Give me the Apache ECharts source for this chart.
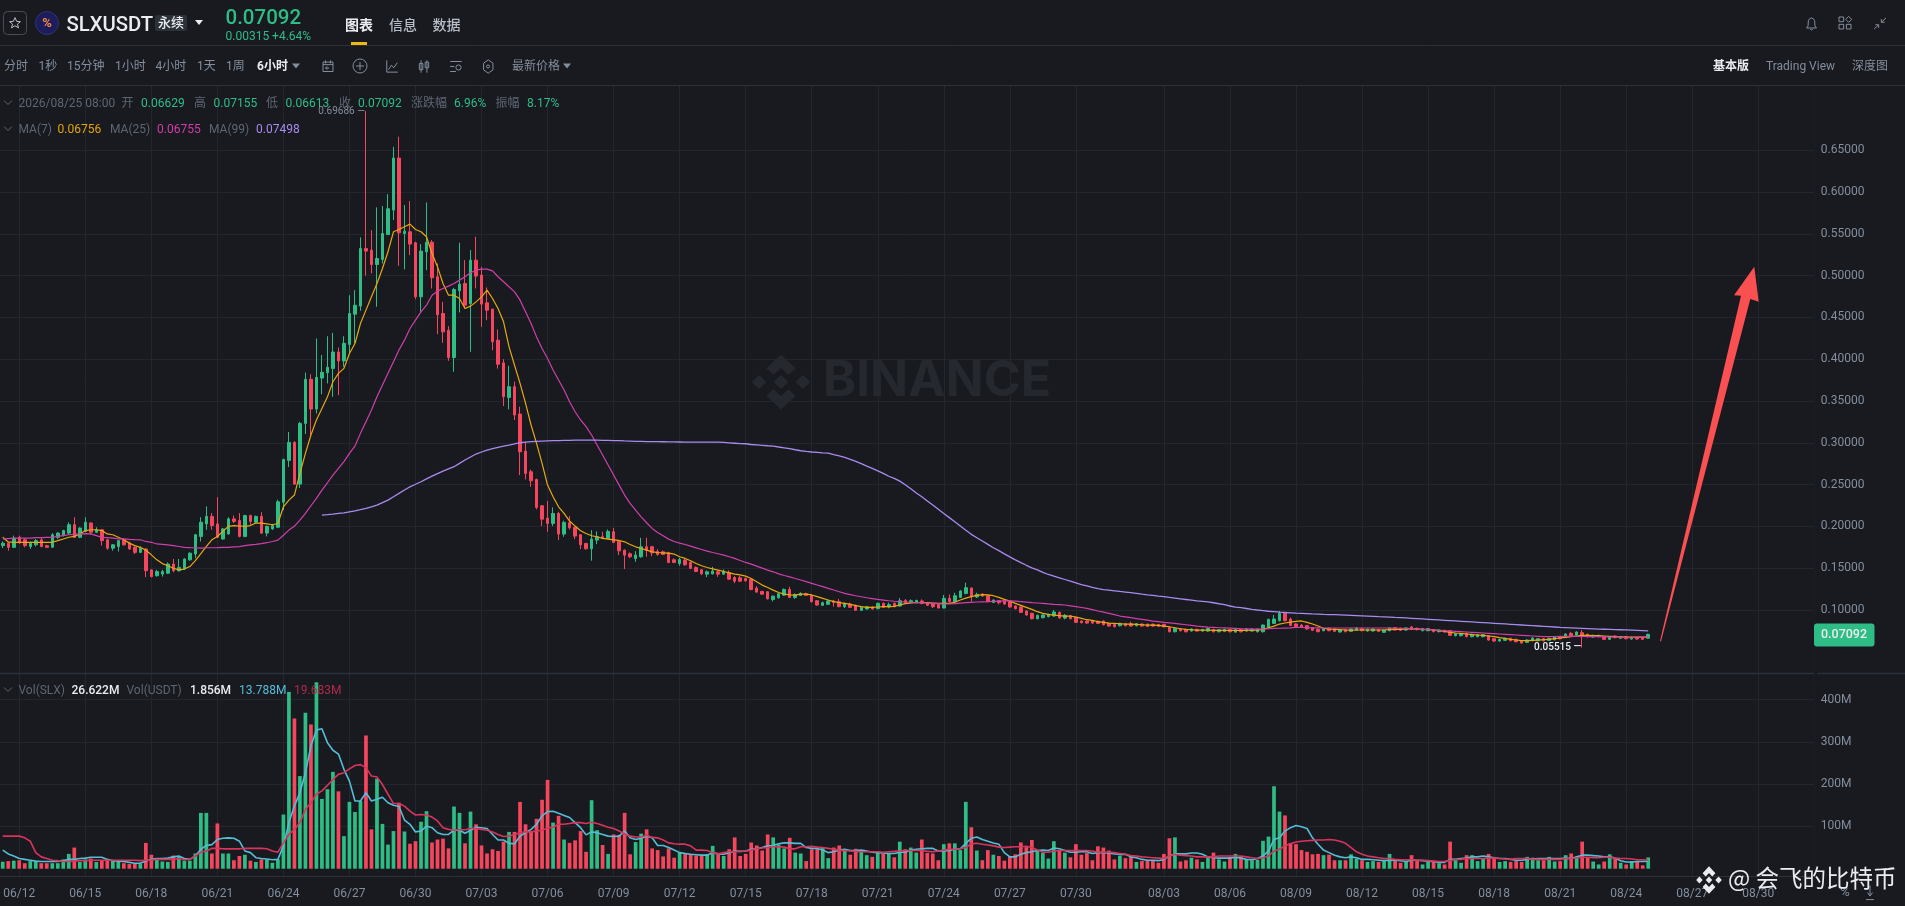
<!DOCTYPE html>
<html><head><meta charset="utf-8"><title>SLXUSDT</title>
<style>html,body{margin:0;padding:0;background:#181a20;overflow:hidden}#c{width:1905px;height:906px}</style>
<script src="https://cdn.jsdelivr.net/npm/echarts@6/dist/echarts.min.js"></script>
</head><body><div id="c"></div>
<script>
const tickLabels=['06/12','06/15','06/18','06/21','06/24','06/27','06/30','07/03','07/06','07/09','07/12','07/15','07/18','07/21','07/24','07/27','07/30','08/03','08/06','08/09','08/12','08/15','08/18','08/21','08/24','08/27','08/30'];
const priceTicks=[0.10,0.15,0.20,0.25,0.30,0.35,0.40,0.45,0.50,0.55,0.60,0.65];
const volTicks=[100,200,300,400];
const opens=[.177,.180,.175,.187,.184,.176,.178,.184,.177,.175,.187,.190,.192,.202,.187,.194,.204,.193,.196,.184,
.174,.176,.184,.180,.175,.169,.173,.148,.141,.143,.144,.155,.147,.149,.160,.167,.188,.203,.212,.203,
.185,.191,.209,.207,.188,.213,.205,.212,.192,.197,.199,.229,.279,.3005,.2506,.3232,.376,.3404,.3775,.3839,
.389,.4086,.398,.4176,.4539,.4635,.5325,.5305,.5133,.5194,.5492,.5784,.6406,.5504,.5524,.5393,.4746,.5285,.54,.4986,
.4547,.4347,.402,.4818,.4906,.4666,.5185,.5006,.4674,.4599,.4228,.3956,.3543,.3671,.3344,.2901,.2654,.2562,.2247,.2099,
.2036,.2155,.1908,.2044,.1988,.19,.1796,.1732,.1836,.1876,.1856,.1936,.1824,.1716,.1673,.1617,.1637,.1756,.1756,.1701,
.1696,.1684,.1601,.1557,.1597,.1569,.1509,.1481,.1429,.1433,.1457,.1429,.1449,.1389,.1385,.1377,.1365,.1262,.1222,.1218,
.1126,.1146,.1178,.1246,.115,.1175,.1195,.1175,.1111,.1056,.1068,.1108,.11,.104,.1072,.1056,.0996,.1012,.1036,.1016,
.108,.1036,.108,.1048,.1115,.1088,.1088,.1108,.1088,.1072,.1068,.1024,.114,.11,.1151,.1199,.1263,.1156,.1191,.1171,
.1091,.1111,.1111,.11,.1048,.1036,.0988,.096,.0896,.0908,.092,.0928,.0972,.0904,.0932,.0912,.0868,.0868,.0872,.0864,
.0868,.084,.0828,.0812,.0836,.0836,.0812,.0832,.083,.083,.0826,.0828,.0792,.074,.0776,.0768,.0749,.0768,.0748,.0748,
.0768,.074,.0744,.0764,.0736,.0764,.0748,.0748,.074,.074,.0792,.084,.0872,.096,.0892,.0833,.082,.0813,.0789,.0769,
.0753,.0781,.0773,.0737,.0765,.0745,.0757,.0777,.0749,.0749,.0765,.0733,.0753,.0789,.0781,.0761,.0797,.0781,.0753,.0753,
.0765,.0741,.0757,.0753,.0693,.0693,.0721,.0681,.0681,.0681,.0693,.0657,.0629,.0637,.0661,.0649,.0633,.0613,.0633,.0633,
.0657,.0637,.0645,.0681,.0681,.0721,.0701,.0729,.0709,.0677,.0681,.0681,.0649,.0689,.0661,.0681,.0653,.0669,.0669,.06629];
const closes=[.180,.175,.186,.181,.177,.180,.183,.176,.175,.190,.192,.195,.202,.187,.198,.205,.193,.196,.183,.174,
.178,.183,.178,.173,.169,.174,.147,.140,.146,.146,.155,.147,.151,.161,.168,.190,.205,.212,.201,.187,
.197,.209,.206,.188,.213,.206,.212,.192,.200,.201,.2295,.280,.3005,.2506,.3232,.376,.3404,.3783,.3843,.3903,
.4086,.398,.419,.4547,.4646,.5325,.5293,.5133,.5205,.5504,.58,.6406,.5512,.5532,.5377,.4746,.5293,.54,.4974,.4531,
.4327,.402,.4834,.4898,.4646,.5185,.4994,.4659,.4587,.4208,.394,.3552,.3671,.3332,.2893,.2634,.2546,.2227,.2087,.2036,
.2155,.1908,.2048,.1984,.1884,.178,.1732,.1848,.1876,.1856,.194,.1808,.1708,.1656,.1637,.1657,.1756,.1716,.1684,.1665,
.1665,.1569,.1569,.1605,.1541,.1497,.1461,.1433,.1457,.1465,.1429,.1465,.1369,.1345,.1345,.1349,.1245,.1214,.119,.1134,
.1166,.1194,.1246,.115,.1186,.1199,.1175,.11,.106,.1088,.1108,.1091,.104,.108,.1032,.0996,.1032,.104,.1012,.108,
.1032,.1064,.104,.1111,.1088,.1111,.1115,.108,.1056,.104,.1024,.114,.11,.1171,.1227,.1267,.116,.1187,.1167,.11,
.1119,.1088,.1072,.1036,.1016,.0972,.094,.0896,.0936,.094,.0948,.0976,.0904,.0936,.0896,.0852,.0848,.0844,.0844,.084,
.0824,.0808,.08,.084,.0812,.0808,.0836,.0808,.0804,.0808,.0804,.08,.074,.078,.0752,.074,.0773,.0748,.0768,.078,
.074,.0764,.0768,.074,.0764,.074,.0772,.0772,.0772,.082,.0888,.0892,.096,.0872,.0816,.0801,.0793,.0773,.0757,.0741,
.0773,.0753,.0745,.0761,.0741,.0773,.0785,.0753,.0769,.0773,.0745,.0761,.0785,.0761,.0757,.0785,.0769,.0765,.0777,.0777,
.0741,.0761,.0737,.0697,.0717,.0717,.0681,.0709,.0705,.0705,.0641,.0629,.0649,.0661,.0633,.0621,.0605,.0641,.0665,.0657,
.0633,.0661,.0677,.0657,.0713,.0689,.0737,.0681,.0681,.0697,.0697,.0649,.0681,.0669,.0681,.0657,.0673,.0653,.0649,.07092];
const lows=[.174,.171,.174,.179,.175,.173,.176,.175,.174,.175,.185,.188,.190,.186,.186,.193,.190,.192,.177,.172,
.171,.170,.177,.172,.167,.168,.1395,.139,.140,.140,.143,.145,.146,.148,.159,.162,.182,.196,.196,.186,
.184,.190,.204,.187,.187,.202,.204,.191,.188,.196,.198,.2195,.271,.250,.246,.3105,.309,.335,.358,.371,
.355,.357,.391,.4068,.4188,.4579,.5,.5026,.4627,.5145,.5485,.5664,.5117,.5074,.5245,.4718,.4567,.5066,.4846,.4299,
.4196,.398,.385,.4559,.4607,.4088,.4846,.4387,.4467,.4108,.3888,.344,.34,.3273,.2614,.2562,.2475,.2203,.2004,.1936,
.2004,.1836,.1876,.1964,.1848,.1728,.1724,.1589,.1788,.1848,.1848,.18,.1656,.1489,.1621,.1577,.1625,.1637,.1645,.1649,
.1657,.1561,.1561,.1529,.1529,.1489,.1453,.1417,.1393,.1425,.1397,.1421,.1361,.1321,.1333,.1341,.1237,.1206,.1182,.1126,
.1102,.1138,.117,.1142,.1134,.1167,.1167,.1088,.1052,.1048,.106,.104,.1032,.1024,.1024,.0988,.0988,.1004,.1004,.1008,
.1024,.102,.1032,.104,.108,.108,.108,.1068,.1048,.1024,.102,.102,.1088,.1088,.1143,.1187,.11,.1143,.1159,.1092,
.1083,.1068,.1064,.1028,.1008,.0964,.0932,.0888,.0888,.09,.0912,.092,.0896,.0888,.0888,.0844,.084,.0836,.0836,.0832,
.0816,.08,.0792,.0804,.0804,.08,.0804,.08,.0796,.08,.0796,.0792,.0732,.0732,.0744,.0732,.0741,.074,.074,.074,
.0732,.0732,.0736,.0732,.0728,.0732,.074,.074,.0732,.0732,.0784,.0832,.0864,.0864,.0808,.0793,.0785,.0765,.0749,.0733,
.0745,.0745,.0737,.0729,.0733,.0737,.0749,.0745,.0741,.0741,.0737,.0725,.0745,.0753,.0749,.0753,.0761,.0757,.0745,.0745,
.0733,.0733,.0729,.0689,.0685,.0685,.0673,.0673,.0673,.0673,.0633,.0621,.0621,.0629,.0625,.0613,.0597,.0605,.0625,.0625,
.0625,.0629,.0637,.0649,.0673,.0681,.0693,.05515,.0673,.0669,.0673,.0641,.0641,.0661,.0653,.0649,.0645,.0645,.0641,.06613];
const highs=[.182,.181,.189,.189,.186,.182,.185,.186,.178,.192,.193,.196,.205,.211,.199,.211,.205,.199,.197,.185,
.179,.184,.186,.182,.176,.176,.174,.149,.148,.148,.157,.161,.161,.162,.169,.191,.211,.224,.216,.235,
.198,.211,.213,.216,.214,.214,.213,.217,.201,.203,.232,.281,.313,.302,.325,.384,.382,.4248,.405,.4275,
.4315,.414,.4275,.4766,.4826,.5457,.69686,.5544,.5816,.5832,.5975,.654,.6662,.5844,.5891,.5405,.5377,.5875,.5425,.5145,
.4686,.4395,.4854,.5393,.5185,.5305,.5465,.5105,.4858,.4605,.4355,.4,.392,.3731,.3432,.3013,.268,.2571,.2255,.2303,
.2227,.2175,.2068,.2123,.1996,.1908,.1804,.1956,.194,.1936,.1964,.198,.1836,.1724,.1689,.1704,.1864,.1864,.1768,.1728,
.1712,.1696,.1617,.1625,.1613,.1581,.1521,.1489,.1473,.1517,.1477,.1485,.1473,.1405,.1409,.1389,.1377,.1285,.123,.1226,
.1174,.1202,.1258,.1277,.1198,.1211,.1207,.1183,.1119,.11,.112,.112,.1131,.1088,.1088,.1064,.104,.1048,.1044,.1088,
.1088,.1088,.1088,.1143,.1131,.1127,.1123,.1127,.1096,.108,.108,.118,.1187,.1207,.1239,.1327,.1271,.1207,.1199,.1179,
.1127,.1119,.1119,.1108,.1056,.1044,.0996,.0968,.0944,.0948,.0956,.1,.098,.0952,.094,.092,.0876,.0876,.088,.0876,
.0876,.0848,.0836,.0848,.0844,.086,.0844,.084,.0838,.0838,.0834,.0836,.08,.0788,.0784,.0776,.078,.0776,.0776,.0792,
.0776,.0772,.0776,.0772,.0772,.0772,.078,.078,.078,.0828,.0896,.094,.0988,.0972,.091,.0841,.0828,.0821,.0797,.0777,
.0781,.0789,.0781,.0769,.0773,.0781,.0793,.0785,.0777,.0781,.0773,.0769,.0793,.0797,.0789,.0793,.0809,.0789,.0785,.0785,
.0773,.0769,.0765,.0761,.0725,.0725,.0729,.0717,.0713,.0713,.0701,.0665,.0657,.0669,.0669,.0657,.0641,.0649,.0673,.0665,
.0665,.0669,.0685,.0689,.0721,.0737,.0745,.0761,.0717,.0705,.0705,.0689,.0689,.0697,.0689,.0689,.0681,.0677,.0677,.07155];
const ma7=[.187,.1814,.181,.181,.181,.181,.181,.181,.181,.181,.183,.185,.187,.188,.191,.195,.196,.196,.195,.191,
.19,.187,.184,.180,.177,.175,.1714,.166,.160,.1555,.153,.150,.148,.149,.152,.159,.1674,.176,.184,.188,
.194,.200,.201,.2005,.200,.201,.204,.204,.203,.202,.2035,.2235,.2315,.2375,.2634,.2873,.3093,.3272,.341,.355,
.373,.383,.389,.4068,.4188,.4427,.4587,.4746,.4906,.5085,.5285,.5524,.5552,.5584,.5616,.5552,.5524,.5465,.5265,.5105,
.4906,.4766,.4766,.4726,.4607,.4635,.4686,.4746,.4826,.4726,.4607,.4447,.4148,.3928,.3711,.3472,.3213,.2993,.2754,.2494,
.2355,.2235,.2155,.2064,.2004,.1948,.1916,.1888,.1876,.1856,.1848,.184,.1832,.1816,.1784,.1756,.1736,.1716,.1696,.1688,
.1684,.168,.1669,.1637,.1617,.1589,.1557,.1529,.1509,.1493,.1477,.1461,.1445,.1429,.1421,.1405,.1377,.1337,.1298,.1269,
.1238,.121,.119,.1182,.1178,.119,.1191,.118,.116,.114,.112,.110,.1088,.108,.1068,.1052,.104,.1032,.1032,.1036,
.104,.104,.1044,.106,.1076,.1084,.1088,.1088,.1088,.1084,.108,.108,.108,.1092,.112,.1143,.116,.1175,.1183,.118,
.1171,.1151,.1127,.1108,.108,.1056,.1032,.1008,.098,.096,.0948,.094,.0932,.0928,.0928,.0916,.09,.0884,.0876,.086,
.0852,.0844,.084,.0836,.0832,.0832,.0828,.0824,.082,.082,.0816,.0808,.08,.0788,.0776,.0768,.0764,.076,.076,.076,
.0756,.0756,.0756,.0756,.0756,.0756,.0756,.076,.076,.0768,.0788,.0808,.0832,.0845,.0855,.0865,.0869,.0853,.0833,.0809,
.0781,.0773,.0769,.0765,.0761,.0757,.0761,.0761,.0761,.0761,.0761,.0761,.0765,.0769,.0769,.0773,.0777,.0773,.0769,.0765,
.0761,.0753,.0745,.0733,.0725,.0721,.0713,.0705,.0701,.0697,.0689,.0681,.0669,.0661,.0649,.0641,.0633,.0633,.0637,.0641,
.0645,.0649,.0657,.0665,.0673,.0681,.0689,.0697,.0697,.0693,.0693,.0689,.0685,.0681,.068,.0675,.0675,.0675,.0675,.06756];
const ma25=[.185,.1855,.186,.186,.186,.186,.1865,.1865,.187,.187,.188,.189,.190,.1905,.191,.1914,.191,.189,.187,.1865,
.186,.185,.185,.1845,.1842,.184,.182,.181,.179,.1785,.178,.177,.176,.175,.1746,.1745,.174,.1745,.1745,.1746,
.175,.175,.1755,.1758,.177,.178,.1786,.1795,.1805,.182,.1836,.1895,.1956,.2003,.2075,.2155,.2247,.2335,.2435,.2522,
.2614,.2694,.2774,.2873,.2961,.3113,.3252,.3392,.3552,.3691,.3831,.3971,.411,.4228,.4367,.4467,.4567,.4646,.4766,.4814,
.4846,.4874,.4906,.4946,.4986,.5034,.5065,.5077,.5077,.5057,.4986,.4926,.4866,.4806,.4706,.4567,.4427,.4267,.4128,.4008,
.3871,.3751,.3632,.3492,.3372,.3273,.3193,.3093,.2973,.2854,.2734,.2614,.2494,.2375,.2275,.2195,.2115,.2044,.1976,.1928,
.1888,.1848,.182,.18,.1784,.1764,.1744,.1724,.1704,.1688,.1673,.1657,.1637,.1617,.1593,.1569,.1549,.1525,.1501,.1477,
.1457,.1433,.1413,.1397,.1377,.1359,.1339,.1319,.1299,.1279,.1259,.1239,.1219,.1199,.1185,.1171,.1159,.1147,.1137,.1127,
.1119,.1111,.1105,.11,.1096,.1092,.109,.1088,.1084,.108,.1076,.1072,.1074,.1076,.1082,.1088,.1092,.1096,.1098,.11,
.1104,.1107,.1109,.1111,.1106,.11,.1094,.1088,.1084,.108,.1074,.1068,.1064,.106,.105,.104,.103,.102,.1004,.0988,
.0974,.096,.0944,.0928,.0918,.0908,.0898,.0888,.0878,.0868,.086,.0852,.0846,.084,.0832,.0824,.0816,.0808,.0802,.0796,
.0792,.0788,.0786,.0784,.078,.0776,.0774,.0772,.0772,.0772,.0776,.078,.0782,.0784,.0786,.0793,.0791,.0789,.0787,.0786,
.0785,.0785,.0785,.0785,.0785,.0785,.0785,.0785,.0785,.0785,.0785,.0785,.0784,.0783,.0782,.0781,.0777,.0773,.0769,.0765,
.0761,.0757,.0753,.0749,.0745,.0741,.0737,.0733,.0729,.0725,.0721,.0717,.0713,.0709,.0705,.0701,.0697,.0693,.0689,.0685,
.0681,.0682,.0683,.0684,.0685,.0685,.0684,.0683,.0682,.0681,.0681,.0679,.0677,.0675,.0673,.0669,.0668,.0677,.0676,.06755];
const ma99=[null,null,null,null,null,null,null,null,null,null,null,null,null,null,null,null,null,null,null,null,
null,null,null,null,null,null,null,null,null,null,null,null,null,null,null,null,null,null,null,null,
null,null,null,null,null,null,null,null,null,null,null,null,null,null,null,null,null,null,.2135,.214,
.2147,.2155,.2163,.2175,.2187,.22,.2215,.2235,.2255,.2285,.2315,.2355,.2395,.2435,.2474,.2504,.2534,.2568,.2602,.2632,
.2662,.2688,.2714,.2754,.2794,.283,.2866,.289,.2913,.293,.2945,.296,.2973,.2988,.3001,.3007,.3013,.3017,.3021,.3023,
.3025,.3027,.3029,.303,.3032,.3033,.3033,.3032,.3031,.303,.3029,.3027,.3025,.3022,.302,.3017,.3016,.3015,.3014,.3014,
.3013,.3012,.3011,.301,.3009,.3009,.3009,.3009,.3009,.3009,.3009,.3005,.3,.2995,.299,.2989,.298,.2975,.297,.2965,
.2961,.295,.294,.293,.2917,.2905,.2897,.289,.2885,.288,.2877,.286,.2845,.2825,.2803,.2778,.275,.2722,.2695,.2665,
.2635,.26,.2575,.2542,.2498,.245,.24,.2355,.2305,.2255,.2205,.2155,.2105,.2055,.2005,.1955,.1905,.1865,.1825,.1785,
.1745,.171,.1672,.1635,.16,.1567,.1535,.1505,.148,.145,.1425,.1405,.1385,.1365,.1345,.1325,.1305,.129,.127,.1255,
.1245,.1238,.123,.1222,.1215,.1208,.12,.119,.1182,.1175,.1167,.116,.115,.1142,.1134,.1126,.1118,.111,.1104,.1097,
.1087,.1075,.1065,.1048,.1035,.1028,.1018,.1008,.1,.0993,.0985,.098,.0974,.097,.0966,.0962,.0959,.0956,.0953,.0951,
.0948,.0946,.0944,.0942,.094,.0937,.0934,.0931,.0928,.0925,.0921,.0918,.0915,.0911,.0908,.0905,.0901,.0897,.0893,.0889,
.0885,.0881,.0877,.0873,.0869,.0865,.0861,.0857,.0853,.0849,.0845,.0841,.0837,.0833,.0829,.0825,.0821,.0817,.0813,.0809,
.0805,.0801,.0797,.0793,.079,.0787,.0784,.0781,.0778,.0775,.0772,.077,.0768,.0766,.0764,.0762,.076,.0757,.0754,.07498];
const volumes=[16.5,18,19,20,13,18,16,13,13,13,13,22,35,50,16,22,24,16,19,21,
19,16,13,11,12,11,61,33,22,17,16,31,28,19,19,36,132,132,36,107,
36,36,20,30,33,19,16,22,22,14,22,128,418,355,219,369,341,441,165,188,
229,183,77,158,134,160,315,93,213,106,57,89,156,88,59,65,111,136,62,69,
71,48,147,132,60,135,105,55,36,46,42,64,87,87,158,105,89,118,163,210,
109,125,69,61,67,89,40,162,91,56,35,81,80,132,34,63,83,93,48,44,
29,48,26,38,35,35,31,31,34,54,34,30,46,74,30,35,62,55,43,81,
74,57,48,73,38,36,18,46,47,50,25,50,55,44,33,47,42,32,28,38,
35,35,27,64,46,50,38,69,37,36,20,58,60,60,44,158,98,43,20,44,
33,30,19,30,34,62,51,68,43,37,24,65,43,38,27,58,33,37,20,53,
50,43,22,31,25,28,16,18,19,20,14,35,72,74,17,20,26,22,16,30,
38,22,17,28,35,30,21,20,21,66,76,195,135,126,61,58,44,40,34,35,
32,33,20,20,20,34,24,20,16,18,16,18,35,20,14,18,32,20,10,16,
17,13,10,64,20,14,32,32,18,24,35,26,16,18,16,18,16,28,26,20,
20,28,17,18,32,36,26,64,26,17,10,17,34,26,14,10,18,16,8,26.622];
const volMaFast=[44,35,30,24,22,20,18,17,17,17,17,19,22,22,24,25,27,27,27,22,
19,18,17,15,13,13,18,22,24,24,25,28,30,24,22,30,46,55,57,69,
72,73,72,65,42,38,26,24,23,21,22,54,109,148,180,227,290,328,331,298,
280,271,235,207,160,160,180,160,164,169,156,150,147,115,105,87,89,101,97,85,
81,81,91,91,84,91,98,97,95,81,68,68,60,59,77,85,93,105,125,135,
136,131,126,121,109,97,80,87,85,81,77,76,77,89,73,69,72,77,73,55,
55,50,44,38,36,34,33,32,32,38,35,34,38,42,41,42,46,47,50,54,
55,59,61,61,60,60,50,48,48,44,38,40,44,46,43,43,44,42,39,38,
37,36,36,39,39,44,46,47,48,48,42,42,43,46,47,60,72,75,69,65,
61,58,38,28,28,34,38,40,43,44,43,49,47,43,39,39,40,40,36,38,
38,37,35,34,34,28,26,22,20,20,19,22,30,35,35,35,37,37,34,28,
26,25,25,25,27,25,22,21,24,30,42,69,73,89,97,102,99,95,73,58,
44,38,32,28,26,28,26,22,22,21,20,19,20,20,19,17,20,20,19,18,
17,15,15,22,22,24,25,28,28,30,28,26,24,24,22,20,20,22,23,24,
24,24,24,24,25,24,28,32,32,31,30,28,28,25,19,16,16,17,17,18];
const volMaSlow=[77,77,77,77,73,65,38,28,24,20,19,17,17,18,19,19,20,20,20,20,
20,20,20,20,20,19,20,20,22,22,22,22,24,21,22,30,39,42,48,48,
47,47,47,47,48,48,48,48,47,42,39,61,81,93,109,140,156,176,184,197,
211,223,227,236,244,246,239,219,217,199,176,154,154,148,136,127,128,127,122,113,
97,93,91,92,92,95,95,93,91,87,81,76,77,81,85,87,87,89,91,96,
98,105,105,107,109,109,107,110,107,103,98,95,89,82,77,75,75,79,74,73,
68,61,59,58,58,54,44,44,43,38,35,38,40,40,41,42,44,47,49,50,
52,52,51,47,47,52,52,53,51,50,48,46,44,43,42,41,40,40,40,40,
39,40,41,42,43,43,43,43,41,40,42,44,46,46,47,50,59,60,58,56,
54,51,50,51,52,52,53,50,44,39,39,42,43,43,43,43,43,43,42,39,
39,39,38,36,34,31,30,28,27,26,25,24,30,34,32,31,30,28,28,28,
28,30,30,30,30,30,28,26,24,26,30,42,46,54,59,63,65,66,67,68,
68,69,68,65,60,50,40,34,30,28,26,24,24,22,21,21,21,20,20,19,
18,17,17,20,21,22,24,24,24,24,25,25,24,23,22,24,24,24,22,22,
22,22,22,22,24,24,26,27,27,26,26,27,27,25,24,24,23,21,21,20];

const FONT='Roboto, "Noto Sans CJK SC", sans-serif';
const BG='#181a20',GRID='#22262d',LINE='#2b3139',GREY='#848e9c',GREEN='#2ebd85',RED='#f6465d';
// 6-hour candle slots, starting 06/11 06:00, running on past the last candle
const SLOTS=330, STEP=5.507;
const categories=[];
for(let i=0;i<SLOTS;i++){
  const d=new Date(Date.UTC(2026,5,11,6)+i*6*3600*1000);
  const p=n=>String(n).padStart(2,'0');
  categories.push(p(d.getUTCMonth()+1)+'/'+p(d.getUTCDate())+' '+p(d.getUTCHours())+':00');
}
const isTick=(i,v)=>v.endsWith(' 00:00')&&tickLabels.includes(v.slice(0,5));
const candles=opens.map((o,i)=>[o,closes[i],lows[i],highs[i]]);
const volBars=volumes.map((v,i)=>({value:v,itemStyle:{color:closes[i]>=opens[i]?GREEN:RED}}));

function T(x,y,text,fill,size,weight,align){return {type:'text',silent:true,z:50,x,y,style:{text,fill:fill||GREY,font:(weight||400)+' '+(size||12)+'px '+FONT,textAlign:align||'left',textVerticalAlign:'middle'}};}
// icon drawn from an M/L/Z outline in a 24-unit box
function Pth(d,x,y,w,h,stroke,fill,z){
  const out=[];
  d.split('M').filter(Boolean).forEach(sub=>{
    const closed=/Z\s*$/.test(sub);
    const pts=sub.replace('Z','').split('L').map(s=>{const a=s.trim().split(/\s+/).map(Number);return [x+a[0]*w/24,y+a[1]*h/24];});
    out.push({type:closed?'polygon':'polyline',silent:true,z:z===undefined?50:z,shape:{points:pts},style:{stroke:stroke||'none',fill:fill||'none',lineWidth:1}});
  });
  return out;
}
function R(x,y,w,h,fill,r,stroke){return {type:'rect',silent:true,z:49,shape:{x,y,width:w,height:h,r:r||0},style:{fill:fill||'none',stroke:stroke||'none'}};}
function L(x1,y1,x2,y2,c,lw){return {type:'line',silent:true,z:48,shape:{x1,y1,x2,y2},style:{stroke:c,lineWidth:lw||1}};}
function C(cx,cy,r,stroke,fill){return {type:'circle',silent:true,z:50,shape:{cx,cy,r},style:{fill:fill||'none',stroke:stroke||'none'}};}
function Tri(x,y,c){return {type:'polygon',silent:true,z:50,shape:{points:[[x-4,y-2.5],[x+4,y-2.5],[x,y+2.5]]},style:{fill:c}};}
function Chev(x,y){return {type:'polyline',silent:true,z:50,shape:{points:[[x-4,y-2],[x,y+2],[x+4,y-2]]},style:{stroke:'#5e6673',fill:'none',lineWidth:1}};}
const ICO='#848e9c';
const bnb='M12 1L17.5 6.5L14.8 9.2L12 6.4L9.2 9.2L6.5 6.5ZM12 23L17.5 17.5L14.8 14.8L12 17.6L9.2 14.8L6.5 17.5ZM1 12L3.8 9.2L6.6 12L3.8 14.8ZM23 12L20.2 9.2L17.4 12L20.2 14.8ZM12 9.2L14.8 12L12 14.8L9.2 12Z';
const graphics=[
 // watermark behind marks
 {type:'text',silent:true,z:-1,x:823,y:381,style:{text:'BINANCE',fill:'#25282f',font:'700 50px Inter, '+FONT,textVerticalAlign:'middle'}},
 Pth(bnb,749,352,64,60,'none','#25282f',-1),
 // frame lines
 L(0,45.5,1905,45.5,LINE), L(0,85.5,1905,85.5,LINE), L(0,673.5,1905,673.5,'#2b3139',1.5), L(0,876.5,1814,876.5,LINE),
 Object.assign(R(1814.2,86,3,790,BG),{z:48}),
 // top bar
 R(3.5,11.5,23,23,'none',4,'#474d57'),
 Pth('M12 2L15 9L22 9.5L16.5 14L18.5 21L12 17L5.5 21L7.5 14L2 9.5L9 9Z',8.5,16.5,13,13,'#b7bdc6'),
 C(47,23,11.5,'#33356f','#1d1c5c'),
 T(47,23.5,'%','#f58a3c',13,700,'center'),
 T(66.5,26,'SLXUSDT','#eaecef',20.3,500),
 R(155,15,32,16,'#2b3139',2),
 T(171,23.5,'永续','#eaecef',13,500,'center'),
 Tri(199,22.5,'#eaecef'),
 T(225.5,19,'0.07092',GREEN,20.5,500),
 T(225.5,37,'0.00315 +4.64%',GREEN,12),
 T(345,26.5,'图表','#eaecef',14,700),
 R(351,42,16,3,'#f0b90b'),
 T(389,26.5,'信息','#b7bdc6',14,500),
 T(432.5,26.5,'数据','#b7bdc6',14,500),
 Pth('M12 3L9 4L7 7L6.5 15L4 18L20 18L17.5 15L17 7L15 4ZM10 20L12 21L14 20',1804,16,15,16,ICO),
 Pth('M3 3L10 3L10 10L3 10ZM17.5 2L22 6.5L17.5 11L13 6.5ZM3 14L10 14L10 21L3 21ZM14 14L21 14L21 21L14 21Z',1837,15,16,16,ICO),
 Pth('M21 3L14 10M14 5L14 10L19 10M3 21L10 14M10 19L10 14L5 14',1872,16,16,15,ICO),
 // toolbar
 T(4,66.5,'分时'),T(38.5,66.5,'1秒'),T(67,66.5,'15分钟'),T(115,66.5,'1小时'),T(155.5,66.5,'4小时'),T(197,66.5,'1天'),T(226,66.5,'1周'),
 T(257,66.5,'6小时','#eaecef',12,700),Tri(296,66,GREY),
 Pth('M4 5L20 5L20 20L4 20ZM4 9L20 9M8 2L8 7M16 2L16 7M14 14.5L8 14.5M11 12L8 14.5L11 17',320.5,59,15,15,ICO),
 C(360,66,7,ICO),L(356,66,364,66,ICO),L(360,62,360,70,ICO),
 Pth('M3 2L3 21L22 21M6 17L11 10L15 14L21 6',385,59,14,15,ICO),
 Pth('M7 2L7 22M4 7L10 7L10 17L4 17ZM17 2L17 22M14 5L20 5L20 14L14 14Z',417,59,14,15,ICO),
 Pth('M2 4L22 4M2 20L12 20M2 12L9 12',449,59,14,15,ICO),C(458.5,67.5,2.6,ICO),
 Pth('M12 2L21 7L21 17L12 22L3 17L3 7Z',482,58.5,12.5,16,ICO),C(488,66.5,1.5,ICO),
 T(512,66.5,'最新价格'),Tri(567,66,GREY),
 T(1713,66.5,'基本版','#eaecef',12,700),T(1766,66.5,'Trading View'),T(1852,66.5,'深度图'),
 // legends
 Chev(8,102.5),T(18.5,104,'2026/08/25 08:00','#5e6673'),T(121.5,104,'开','#5e6673'),T(141,104,'0.06629',GREEN),T(194,104,'高','#5e6673'),T(213.5,104,'0.07155',GREEN),
 T(266,104,'低','#5e6673'),T(285.5,104,'0.06613',GREEN),T(339,104,'收','#5e6673'),T(358,104,'0.07092',GREEN),T(411,104,'涨跌幅','#5e6673'),T(454,104,'6.96%',GREEN),
 T(495.5,104,'振幅','#5e6673'),T(527,104,'8.17%',GREEN),
 Chev(8,128.5),T(18.5,129.5,'MA(7)','#5e6673'),T(57.5,129.5,'0.06756','#e5a50a'),T(110,129.5,'MA(25)','#5e6673'),T(157,129.5,'0.06755','#cf3ea8'),T(209,129.5,'MA(99)','#5e6673'),T(256,129.5,'0.07498','#a98aef'),
 Chev(8,689.5),T(18.5,691,'Vol(SLX)','#5e6673'),T(71.5,691,'26.622M','#eaecef',12,500),T(126.5,691,'Vol(USDT)','#5e6673'),T(190,691,'1.856M','#eaecef',12,500),T(239,691,'13.788M','#56bdd6'),T(294,691,'19.683M','#b02a4a'),
 // last price tag
 R(1814,623.5,60.5,23,GREEN,3),T(1844,635,'0.07092','#eaecef',12.5,500,'center'),
 // pane controls
 T(1845,893,'%',GREY,13,400,'center'),
 Pth('M12 2L12 17M7 12L12 17L17 12M4 22L20 22',1864,884,12,17,ICO),
 // red annotation arrow
 {type:'polygon',silent:true,z:60,shape:{points:[[1660,641],[1741,295.7],[1734,295.3],[1754.3,266.7],[1758.7,301.7],[1750.3,299],[1661,641.5]]},style:{fill:'#fb5052'}},
 // share watermark
 Pth(bnb,1695,865,28,30,'none','#eaecef',61),
 {type:'text',silent:true,z:61,x:1728,y:878,style:{text:'@ 会飞的比特币',fill:'#eaecef',font:'400 23.5px "Noto Sans CJK SC", sans-serif',textVerticalAlign:'middle'}}
].flat();

const xBase={type:'category',data:categories,boundaryGap:true,axisTick:{show:false},axisLine:{show:false},
  splitLine:{show:true,interval:isTick,alignWithLabel:true,lineStyle:{color:GRID,width:1}}};
const hline=(vals)=>({silent:true,z:1,symbol:'none',animation:false,label:{show:false},lineStyle:{color:GRID,width:1,type:'solid'},emphasis:{disabled:true},data:vals.map(v=>({yAxis:v}))});
const maLine=(name,data,color,lw,ax)=>({name,type:'line',data,xAxisIndex:ax,yAxisIndex:ax,symbol:'none',z:6,connectNulls:false,showSymbol:false,lineStyle:{color,width:lw},itemStyle:{color},silent:true});

const option={
 backgroundColor:BG,animation:false,
 textStyle:{fontFamily:FONT},
 grid:[{left:-1.25,top:85,width:SLOTS*STEP,height:588.3},{left:-1.25,top:673.3,width:SLOTS*STEP,height:203.4}],
 xAxis:[Object.assign({},xBase,{gridIndex:0,axisLabel:{show:false}}),
        Object.assign({},xBase,{gridIndex:1,axisLabel:{show:true,interval:isTick,color:GREY,fontSize:12,fontFamily:FONT,margin:11,formatter:v=>v.slice(0,5)}})],
 yAxis:[{type:'value',gridIndex:0,position:'right',offset:-2.3,min:0.0243,max:0.728,splitLine:{show:false},axisTick:{show:false},
   axisLine:{show:true,lineStyle:{color:LINE}},
   axisLabel:{customValues:priceTicks,color:GREY,fontSize:12,fontFamily:FONT,margin:7,formatter:v=>Number(v).toFixed(5)}},
  {type:'value',gridIndex:1,position:'right',offset:-2.3,min:-18.9,max:462,splitLine:{show:false},axisTick:{show:false},
   axisLine:{show:true,lineStyle:{color:LINE}},
   axisLabel:{customValues:volTicks,color:GREY,fontSize:12,fontFamily:FONT,margin:7,formatter:v=>v+'M'}}],
 series:[
  {name:'gridP',type:'line',data:[],xAxisIndex:0,yAxisIndex:0,z:1,silent:true,markLine:hline(priceTicks)},
  {name:'gridV',type:'line',data:[],xAxisIndex:1,yAxisIndex:1,z:1,silent:true,markLine:hline(volTicks)},
  {name:'SLXUSDT',type:'candlestick',data:candles,xAxisIndex:0,yAxisIndex:0,z:4,barWidth:3,silent:true,
   itemStyle:{color:GREEN,color0:RED,borderColor:GREEN,borderColor0:RED,borderWidth:1},
   markPoint:{silent:true,symbol:'circle',symbolSize:0,animation:false,data:[
     {coord:[categories[66],highs[66]],value:highs[66],label:{show:true,position:'left',distance:1,formatter:'0.69686 —',color:'#848e9c',fontSize:10,fontFamily:FONT}},
     {coord:[categories[287],lows[287]],value:lows[287],label:{show:true,position:'left',distance:1,formatter:'0.05515 —',color:'#eaecef',fontSize:10,fontWeight:500,fontFamily:FONT}}
   ]}},
  maLine('MA(7)',ma7,'#e8a90c',1.2,0),
  maLine('MA(25)',ma25,'#d13fab',1.2,0),
  maLine('MA(99)',ma99,'#a98aef',1.3,0),
  {name:'Vol',type:'bar',data:volBars,xAxisIndex:1,yAxisIndex:1,z:4,barWidth:3.7,silent:true},
  maLine('VolFast',volMaFast,'#56bdd6',1.6,1),
  maLine('VolSlow',volMaSlow,'#d8345c',1.6,1)
 ],
 graphic:{elements:graphics}
};
echarts.init(document.getElementById('c')).setOption(option);
</script></body></html>
